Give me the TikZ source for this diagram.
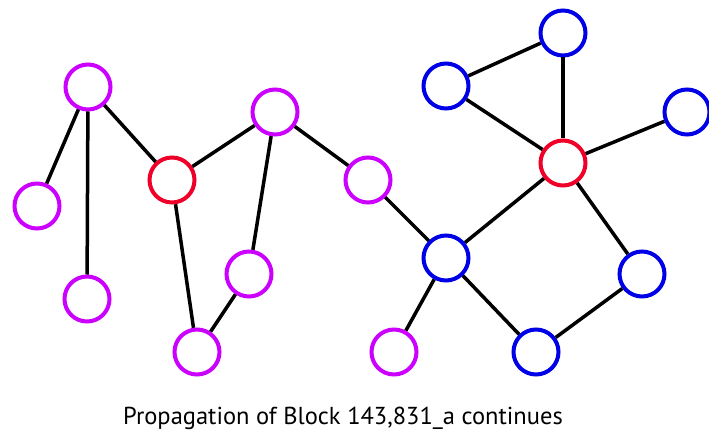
\documentclass[tikz,border=0pt]{standalone}
\usepackage{fontspec}
\setmainfont{PT Sans}
\usepackage{tikz}
\usetikzlibrary{positioning, calc}
\definecolor{peermag}{RGB}{204,0,255}
\definecolor{peerblue}{RGB}{0,0,230}
\definecolor{peerred}{RGB}{240,0,40}

\begin{document}
\begin{tikzpicture}[x=1pt, y=-1pt,
    peer/.style={circle, draw, line width=4pt, minimum size=45pt, inner sep=0pt},
    mag/.style={peer, draw=peermag},
    blu/.style={peer, draw=peerblue},
    hot/.style={peer, draw=peerred},
    link/.style={line width=3.5pt, black}]
\useasboundingbox (0,0) rectangle (709,438);

% Left cluster
\node[mag] (a) at (88,87) {};
\node[mag] (b) at (37,206) {};
\node[mag] (c) at (87,299) {};
\node[hot] (d) at (172,180) {};
\node[mag] (e) at (275,112) {};
\node[mag] (f) at (249,274) {};
\node[mag] (g) at (197,352) {};
\node[mag] (h) at (368,180) {};
\node[mag] (i) at (394,352) {};

% Right cluster
\node[blu] (j) at (446,86) {};
\node[blu] (k) at (563,33) {};
\node[blu] (l) at (687,112) {};
\node[hot] (m) at (563,163) {};
\node[blu] (n) at (446,258) {};
\node[blu] (o) at (642,274) {};
\node[blu] (p) at (536,352) {};

% Links
\foreach \u/\v in {a/b, a/c, a/d, d/e, d/g, e/f, f/g, e/h, h/n, n/i, n/p, n/m, m/j, m/k, j/k, m/l, m/o, o/p}
    \draw[link] (\u) -- (\v);

\node[font=\fontsize{24.5}{28}\selectfont] (cap) at (343,418) {Propagation of Block 143,831\_a continues};
\end{tikzpicture}
\end{document}
